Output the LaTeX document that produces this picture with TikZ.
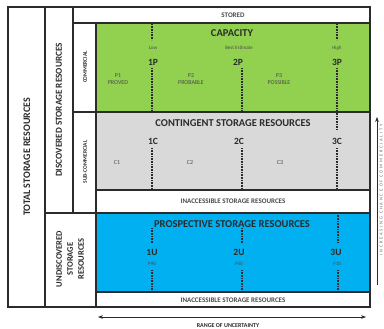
\documentclass[tikz,border=0pt]{standalone}
\usepackage{fontspec}
\setmainfont{Carlito}
\usetikzlibrary{arrows.meta}
\definecolor{capgreen}{HTML}{92D050}
\definecolor{contgray}{HTML}{D9D9D9}
\definecolor{prosblue}{HTML}{00B0F0}
\definecolor{ink}{HTML}{2B2B2B}
\newfontfamily\spacedfont[LetterSpace=40]{Carlito}
\begin{document}
\begin{tikzpicture}[x=1pt,y=-1pt,
  frame/.style={draw=ink, line width=1.1pt},
  dots/.style={draw=ink, line width=1.6pt, dash pattern=on 0.8pt off 0.8pt},
  title/.style={font=\fontsize{10.5}{12}\selectfont\bfseries, text=ink, inner sep=0pt},
  band/.style={font=\fontsize{7}{8}\selectfont\bfseries, text=ink!85, inner sep=0pt},
  code/.style={font=\fontsize{9.5}{11}\selectfont\bfseries, text=ink, inner sep=0pt},
  tiny/.style={font=\fontsize{5}{6}\selectfont, text=ink!85, inner sep=0pt},
  cls/.style={font=\fontsize{6}{7.5}\selectfont, text=ink!85, inner sep=0pt, align=center},
  side/.style={rotate=90, text=ink, inner sep=0pt, align=center},
  axis/.style={draw=ink, line width=0.9pt}]
\useasboundingbox (0,0) rectangle (384,329);
\fill[white] (0,0) rectangle (384,329);
% fills
\fill[capgreen] (96,23) rectangle (370,112);
\fill[contgray] (96,112) rectangle (370,190);
\fill[prosblue] (96,213) rectangle (370,292);
% frame lines
\draw[frame] (8,7) rectangle (370,307);
\draw[frame] (45,7) -- (45,307);
\draw[frame] (73,7) -- (73,213);
\draw[frame] (96,23) -- (96,307);
\draw[frame] (73,23) -- (370,23);
\draw[frame] (73,112) -- (370,112);
\draw[frame] (96,190) -- (370,190);
\draw[frame] (45,213) -- (370,213);
\draw[frame] (96,292) -- (370,292);
% dotted separators
\draw[dots] (152,24) -- (152,40);
\draw[dots] (152,68) -- (152,112);
\draw[dots] (242,68) -- (242,112);
\draw[dots] (337,24) -- (337,40);
\draw[dots] (337,68) -- (337,130);
\draw[dots] (152,148) -- (152,190);
\draw[dots] (242,148) -- (242,190);
\draw[dots] (337,148) -- (337,190);
\draw[dots] (152,228) -- (152,243);
\draw[dots] (152,270) -- (152,292);
\draw[dots] (242,228) -- (242,243);
\draw[dots] (242,270) -- (242,292);
\draw[dots] (338,213) -- (338,243);
\draw[dots] (338,270) -- (338,292);
% texts
\node[band] (stored) at (233,15) {STORED};
\node[title] (cap) at (232,33) {CAPACITY};
\node[tiny] (low) at (153,48) {Low};
\node[tiny] (best) at (239,48) {Best Estimate};
\node[tiny] (high) at (337,48) {High};
\node[code] (p1c) at (153,62) {1P};
\node[code] (p2c) at (238,62) {2P};
\node[code] (p3c) at (337,62) {3P};
\node[cls] (p1) at (118,79) {P1\\PROVED};
\node[cls] (p2) at (191,79) {P2\\PROBABLE};
\node[cls] (p3) at (279,79) {P3\\POSSIBLE};
\node[title] (cont) at (233,123) {CONTINGENT STORAGE RESOURCES};
\node[code] (c1c) at (153,141) {1C};
\node[code] (c2c) at (239,141) {2C};
\node[code] (c3c) at (337,141) {3C};
\node[cls] (c1) at (117,163) {C1};
\node[cls] (c2) at (190,163) {C2};
\node[cls] (c3) at (280,163) {C3};
\node[band] (in1) at (233,201) {INACCESSIBLE STORAGE RESOURCES};
\node[title] (pros) at (232,224) {PROSPECTIVE STORAGE RESOURCES};
\node[code] (u1c) at (152,252) {1U};
\node[code] (u2c) at (239,252) {2U};
\node[code] (u3c) at (336,252) {3U};
\node[tiny] (u1) at (152,264) {P90};
\node[tiny] (u2) at (239,264) {P50};
\node[tiny] (u3) at (337,264) {P10};
\node[band] (in2) at (233,300) {INACCESSIBLE STORAGE RESOURCES};
% side labels
\node[side, font=\fontsize{10}{11}\selectfont\bfseries] (total) at (27,157) {TOTAL STORAGE RESOURCES};
\node[side, font=\fontsize{9.2}{11}\selectfont\bfseries] (disc) at (59,110) {DISCOVERED STORAGE RESOURCES};
\node[side, font=\fontsize{5.5}{7}\selectfont\bfseries] (comm) at (85,67) {COMMERCIAL};
\node[side, font=\fontsize{5.5}{7}\selectfont\bfseries] (sub) at (85,162) {SUB-COMMERCIAL};
\node[side, font=\fontsize{8.5}{11}\selectfont\bfseries] (undisc) at (70,259) {UNDISCOVERED\\STORAGE\\RESOURCES};
% axes
\coordinate (ha) at (98,317);
\coordinate (hb) at (366,317);
\draw[axis, {Stealth[length=5pt]}-{Stealth[length=5pt]}] (ha) -- (hb);
\node[font=\fontsize{6}{7}\selectfont\bfseries, text=ink, inner sep=0pt] (range) at (228,326) {RANGE OF UNCERTAINTY};
\coordinate (va) at (377,285);
\coordinate (vb) at (377,117);
\draw[axis, -{Stealth[length=5pt]}] (va) -- (vb);
\node[side, font=\spacedfont\fontsize{4.5}{5}\selectfont, text=ink!70] (chance) at (381.3,190) {INCREASING CHANCE OF COMMERCIALITY};
\end{tikzpicture}
\end{document}
